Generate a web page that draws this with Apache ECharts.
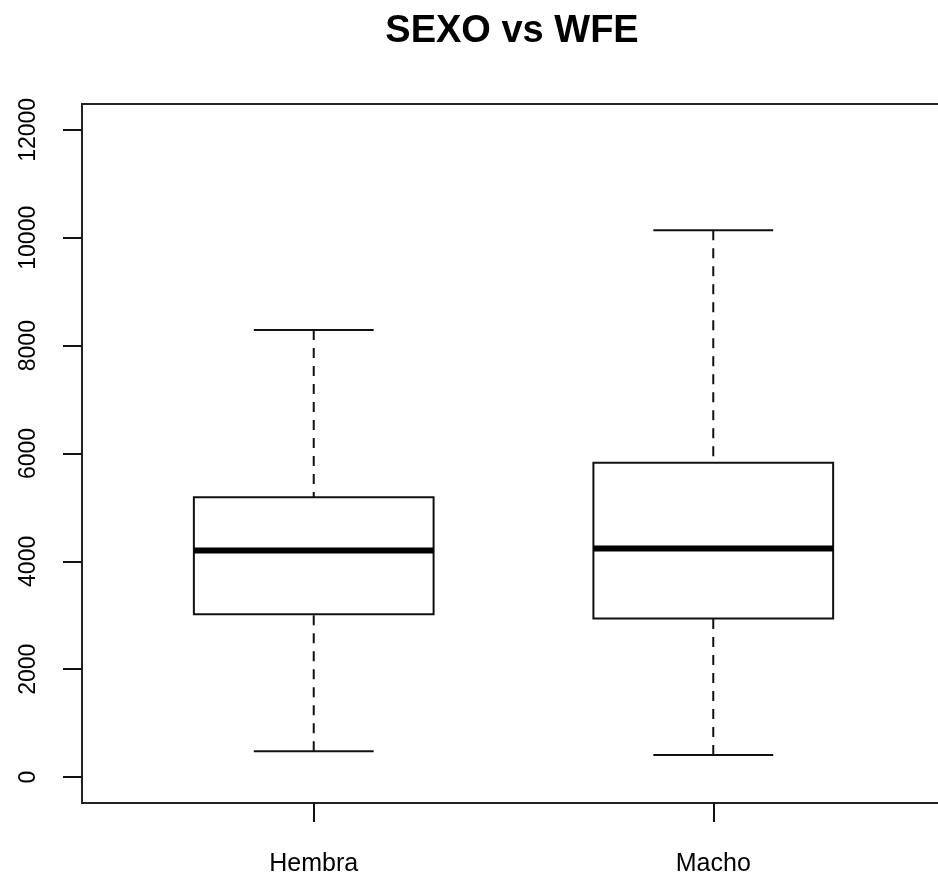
<!DOCTYPE html>
<html>
<head>
<meta charset="utf-8">
<title>SEXO vs WFE</title>
<script src="https://cdn.jsdelivr.net/npm/echarts@6/dist/echarts.min.js"></script>
<style>
  html, body { margin: 0; padding: 0; background: #ffffff; }
  #chart { width: 938px; height: 882px; }
</style>
</head>
<body>
<div id="chart"></div>
<script>
// Groups and their five-number summaries of WFE
const categories = ['Hembra', 'Macho'];
const wfeMin    = [480, 410];
const wfeQ1     = [3020, 2940];
const wfeMedian = [4200, 4240];
const wfeQ3     = [5190, 5830];
const wfeMax    = [8290, 10140];
const yTicks    = [0, 2000, 4000, 6000, 8000, 10000, 12000];

// one row per group: [position, min, q1, median, q3, max]
const boxRows = categories.map((c, i) => [i + 1, wfeMin[i], wfeQ1[i], wfeMedian[i], wfeQ3[i], wfeMax[i]]);

const INK = '#111111';
const BOX_HALF = 0.3;   // half box width in axis units
const CAP_HALF = 0.15;  // half whisker-cap width in axis units

function renderBox(params, api) {
  const x = api.value(0);
  const pLo = api.coord([x, api.value(1)]);
  const pQ1 = api.coord([x, api.value(2)]);
  const pMed = api.coord([x, api.value(3)]);
  const pQ3 = api.coord([x, api.value(4)]);
  const pHi = api.coord([x, api.value(5)]);
  const cx = pMed[0];
  const hb = api.size([BOX_HALF, 0])[0];
  const hc = api.size([CAP_HALF, 0])[0];
  const solid = { stroke: INK, lineWidth: 2 };
  const dashed = { stroke: INK, lineWidth: 2, lineDash: [10, 8] };
  return {
    type: 'group',
    children: [
      { type: 'line', shape: { x1: cx, y1: pHi[1], x2: cx, y2: pQ3[1] }, style: dashed },
      { type: 'line', shape: { x1: cx, y1: pLo[1], x2: cx, y2: pQ1[1] }, style: dashed },
      { type: 'line', shape: { x1: cx - hc, y1: pHi[1], x2: cx + hc, y2: pHi[1] }, style: solid },
      { type: 'line', shape: { x1: cx - hc, y1: pLo[1], x2: cx + hc, y2: pLo[1] }, style: solid },
      { type: 'rect', shape: { x: cx - hb, y: pQ3[1], width: 2 * hb, height: pQ1[1] - pQ3[1] },
        style: { fill: '#ffffff', stroke: INK, lineWidth: 2 } },
      { type: 'line', shape: { x1: cx - hb, y1: pMed[1], x2: cx + hb, y2: pMed[1] },
        style: { stroke: '#000000', lineWidth: 6 } }
    ]
  };
}

const chart = echarts.init(document.getElementById('chart'), null, { renderer: 'canvas' });

chart.setOption({
  animation: false,
  backgroundColor: '#ffffff',
  title: {
    text: 'SEXO vs WFE',
    left: 507,
    textAlign: 'center',
    top: 8,
    textStyle: { fontFamily: 'Liberation Sans, Arial, sans-serif', fontWeight: 'bold', fontSize: 38, color: '#000' }
  },
  grid: {
    left: 82, top: 104, width: 863, height: 699,
    show: true, borderColor: '#222222', borderWidth: 2, backgroundColor: 'transparent',
    containLabel: false, outerBoundsMode: 'none'
  },
  xAxis: {
    type: 'value',
    position: 'bottom',
    min: 0.42, max: 2.58,
    splitLine: { show: false },
    axisLine: { show: false, onZero: false },
    axisTick: { show: true, length: 19, customValues: [1, 2], lineStyle: { color: INK, width: 2 } },
    axisLabel: {
      customValues: [1, 2],
      formatter: v => categories[Math.round(v) - 1] || '',
      margin: 49,
      fontFamily: 'Liberation Sans, Arial, sans-serif',
      fontSize: 25, color: '#000'
    }
  },
  yAxis: {
    type: 'value',
    position: 'left',
    min: -480, max: 12480,
    splitLine: { show: false },
    axisLine: { show: false, onZero: false },
    axisTick: { show: true, length: 19, customValues: yTicks, lineStyle: { color: INK, width: 2 } },
    axisLabel: {
      customValues: yTicks,
      rotate: 90,
      margin: 42,
      formatter: v => String(v),
      fontFamily: 'Liberation Sans, Arial, sans-serif',
      fontSize: 23, color: '#000'
    }
  },
  series: [{
    type: 'custom',
    renderItem: renderBox,
    data: boxRows,
    encode: { x: 0, y: [1, 2, 3, 4, 5] },
    clip: false
  }]
});
</script>
</body>
</html>
